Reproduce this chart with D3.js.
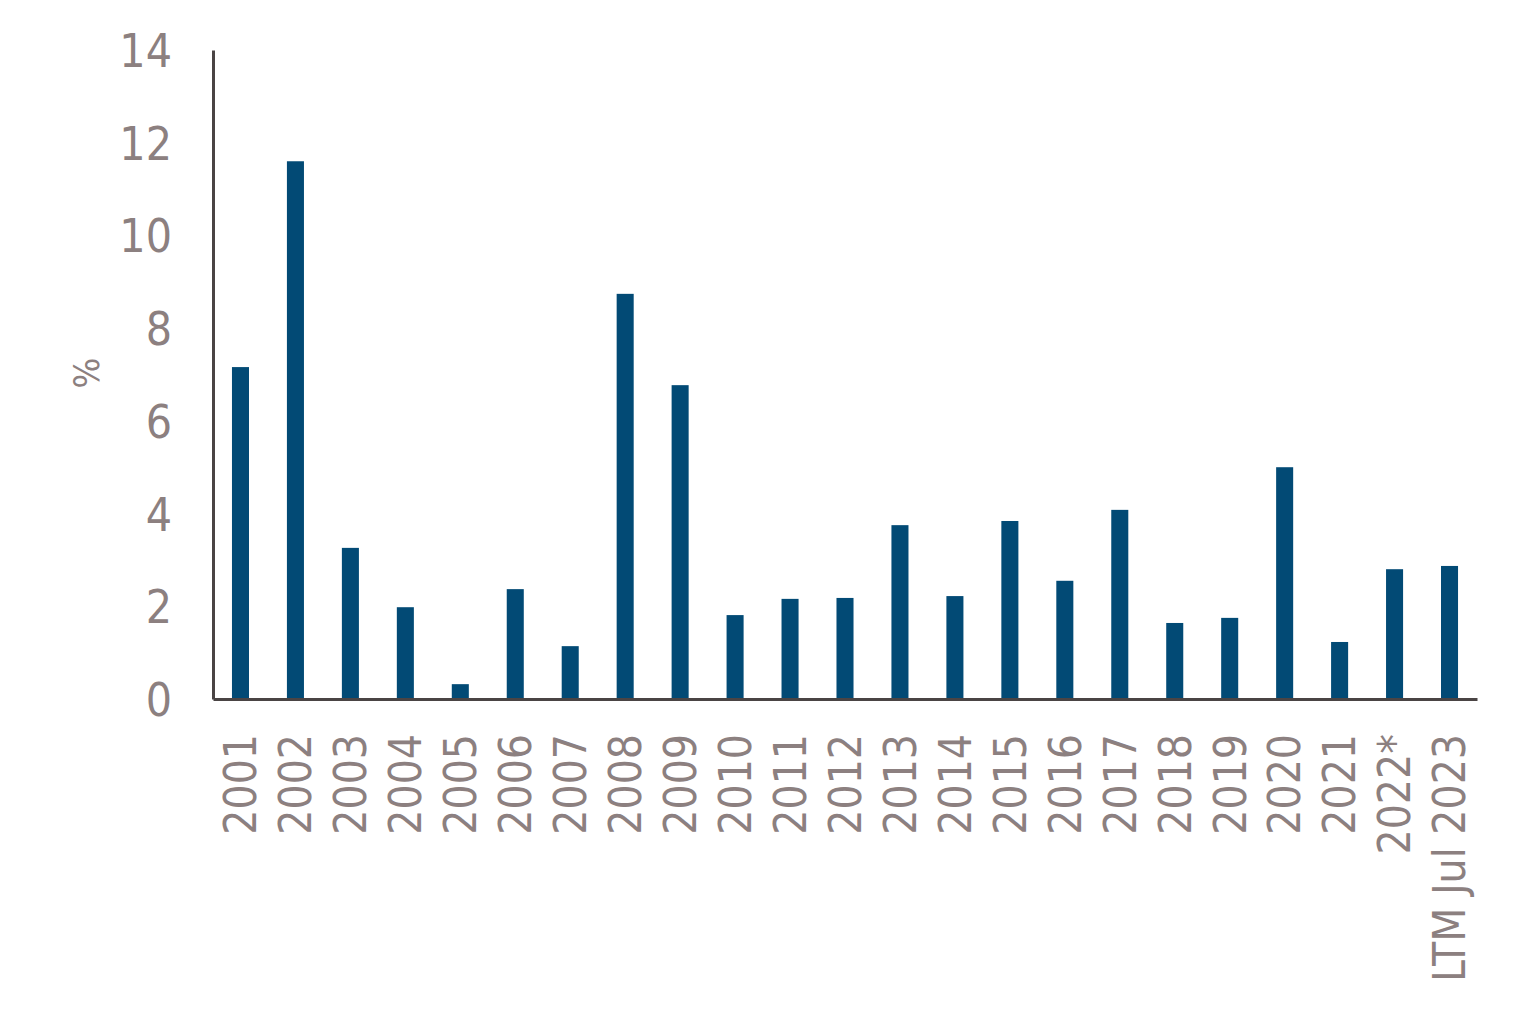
<!DOCTYPE html>
<html lang="en">
<head>
  <meta charset="UTF-8">
  <title>Bar Chart</title>
  <style>
    body {
      margin: 0;
      background: #fff;
    }
    svg text {
      font-family: "Liberation Sans Narrow", "DejaVu Sans Condensed", sans-serif;
      fill: #8c8080;
    }
  </style>
</head>
<body>

<script src="https://d3js.org/d3.v7.min.js"></script>
<script>
  // Data
  const categories = ['2001', '2002', '2003', '2004', '2005', '2006', '2007', '2008', '2009', '2010',
    '2011', '2012', '2013', '2014', '2015', '2016', '2017', '2018', '2019', '2020',
    '2021', '2022*', 'LTM Jul 2023'];
  const values = [7.16, 11.6, 3.26, 1.98, 0.32, 2.37, 1.14, 8.74, 6.77, 1.81,
    2.16, 2.18, 3.75, 2.22, 3.84, 2.55, 4.08, 1.64, 1.75, 5.0,
    1.23, 2.80, 2.87];
  const yTicks = [0, 2, 4, 6, 8, 10, 12, 14];

  const width = 1527;
  const height = 1024;
  const plotLeft = 213, plotRight = 1477, plotTop = 50, plotBottom = 699;

  const svg = d3.select('body')
    .append('svg')
    .attr('width', width)
    .attr('height', height);

  const xScale = d3.scaleBand()
    .domain(categories)
    .range([plotLeft, plotRight])
    .paddingInner(0.69)
    .paddingOuter(0.345);

  const yScale = d3.scaleLinear()
    .domain([0, 14])
    .range([plotBottom, plotTop]);

  // Bars
  svg.selectAll('rect.bar')
    .data(values)
    .enter()
    .append('rect')
    .attr('class', 'bar')
    .attr('x', (d, i) => xScale(categories[i]))
    .attr('y', d => yScale(d))
    .attr('width', xScale.bandwidth())
    .attr('height', d => plotBottom - yScale(d))
    .attr('fill', '#024a75');

  // Y axis
  const yAxis = svg.append('g')
    .attr('transform', 'translate(' + plotLeft + ',0)')
    .call(d3.axisLeft(yScale).tickValues(yTicks).tickSize(0).tickPadding(41));
  yAxis.select('.domain').attr('stroke', '#4a4444').attr('stroke-width', 3);
  yAxis.selectAll('text')
    .style('font-size', '46px')
    .attr('dy', '0.36em');

  // X axis
  const xAxis = svg.append('g')
    .attr('transform', 'translate(0,' + plotBottom + ')')
    .call(d3.axisBottom(xScale).tickSize(0).tickPadding(0));
  xAxis.select('.domain').attr('stroke', '#4a4444').attr('stroke-width', 3);
  xAxis.selectAll('text')
    .style('font-size', '44px')
    .attr('text-anchor', 'end')
    .attr('transform', 'rotate(-90)')
    .attr('x', -35)
    .attr('y', 0)
    .attr('dy', '0.36em');

  // Y axis title
  svg.append('text')
    .attr('transform', 'translate(86,373) rotate(-90)')
    .attr('text-anchor', 'middle')
    .attr('dy', '0.35em')
    .style('font-size', '36px')
    .text('%');
</script>

</body>
</html>
